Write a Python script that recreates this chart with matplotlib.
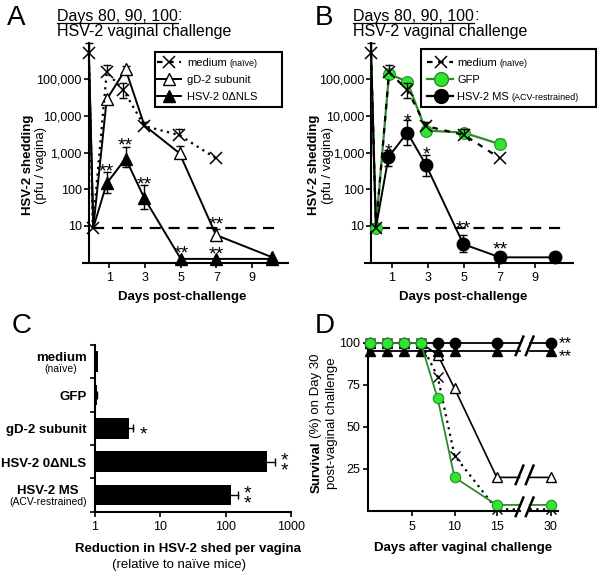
import matplotlib
matplotlib.use("Agg")
import matplotlib.pyplot as plt
from matplotlib.lines import Line2D
from matplotlib.patches import Rectangle
from matplotlib.ticker import NullLocator
import numpy as np

plt.rcParams['font.family'] = ['Liberation Sans', 'DejaVu Sans']

W, H = 602, 574
GREEN_FACE = '#2ee62e'
GREEN_LINE = '#2c8c2c'

# ---- panel A: HSV-2 shedding (pfu / vagina) vs days post-challenge
a_med_days = [-0.15, 0.07, 0.85, 1.78, 2.96, 4.92, 6.97]
a_med = [5.1e5, 9, 1.55e5, 5.1e4, 5.3e3, 3.0e3, 700]
a_med_hi = [9.8e5, 9, 2.4e5, 8e4, 7e3, 4.3e3, 700]
a_med_lo = [5.1e5, 9, 1.55e5, 3e4, 5.3e3, 3.0e3, 700]

a_gd_days = [-0.15, 0.1, 0.85, 1.91, 2.96, 4.93, 6.97, 10.13]
a_gd = [5.1e5, 9, 2.8e4, 1.86e5, 5.5e3, 960, 5.7, 1.4]
a_gd_hi = [5.1e5, 9, 2.8e4, 2.3e5, 5.5e3, 1.5e3, 8.1, 1.4]
a_gd_lo = [5.1e5, 9, 2.8e4, 1.86e5, 5.5e3, 960, 4.2, 1.4]

a_nls_days = [-0.15, 0.1, 0.85, 1.91, 2.96, 5.0, 6.97, 10.13]
a_nls = [5.1e5, 9, 145, 690, 57, 1.27, 1.27, 1.27]
a_nls_hi = [5.1e5, 9, 300, 1450, 130, 1.27, 1.27, 1.27]
a_nls_lo = [5.1e5, 9, 78, 415, 29, 1.27, 1.27, 1.27]

# (day, anchor value, stars, pixels above anchor)
a_stars = [(0.85, 300, '**', 6), (1.91, 1450, '**', 7), (2.96, 130, '**', 7),
           (5.0, 1.27, '**', 12), (6.97, 1.27, '**', 11), (6.97, 8.1, '**', 11)]

# ---- panel B
b_med_days = [-0.15, 0.12, 0.85, 1.87, 2.9, 5.05, 7.03]
b_med = [5.1e5, 9, 1.55e5, 5.1e4, 5.3e3, 3.0e3, 700]
b_med_hi = [9.8e5, 9, 2.4e5, 8e4, 7e3, 4.3e3, 700]
b_med_lo = [5.1e5, 9, 1.55e5, 3e4, 5.3e3, 3.0e3, 700]

b_gfp_days = [-0.15, 0.12, 0.85, 1.87, 2.9, 5.0, 7.03]
b_gfp = [5.1e5, 9, 1.4e5, 8.5e4, 4.0e3, 3.5e3, 1.7e3]
b_gfp_hi = [5.1e5, 9, 1.4e5, 8.5e4, 4.0e3, 3.5e3, 2.4e3]
b_gfp_lo = [5.1e5, 9, 1.4e5, 8.5e4, 4.0e3, 3.5e3, 1.7e3]

b_ms_days = [-0.15, 0.12, 0.82, 1.87, 2.91, 4.99, 7.03, 10.1]
b_ms = [5.1e5, 9, 760, 3.5e3, 460, 3.2, 1.4, 1.4]
b_ms_hi = [5.1e5, 9, 1170, 7.8e3, 850, 5.7, 1.4, 1.4]
b_ms_lo = [5.1e5, 9, 420, 1.6e3, 230, 2.0, 1.4, 1.4]

b_stars = [(0.82, 1170, '*', 5), (1.87, 7.8e3, '*', 4), (2.91, 850, '*', 7),
           (4.99, 5.7, '**', 13), (7.03, 1.4, '**', 14)]

LOD = 9  # dashed detection-limit line

# ---- panel C: fold reduction in shedding
c_groups = ['medium', 'GFP', 'gD-2 subunit', 'HSV-2 0ΔNLS', 'HSV-2 MS']
c_sub = ['(naïve)', '', '', '', '(ACV-restrained)']
c_fold = [1.12, 1.06, 3.35, 434, 121]
c_fold_hi = [1.12, 1.08, 3.86, 570, 157]
c_stars = ['', '', '*', '**', '**']

# ---- panel D: survival
d_days = [0, 2, 4, 6, 8, 10, 15, 30]
d_med = [100, 100, 100, 100, 80, 33, 1, 1]
d_gfp = [100, 100, 100, 100, 67, 20, 3.6, 3.6]
d_gd = [100, 100, 100, 100, 93, 73, 20, 20]
d_nls = [95, 95, 95, 95, 95, 95, 95, 95]
d_ms = [100, 100, 100, 100, 100, 100, 100, 100]
D30_POS = 21.4     # where day 30 sits after the axis break
BREAK = (17.7, 18.9)

fig = plt.figure(figsize=(W / 100, H / 100), dpi=100)
renderer = fig.canvas.get_renderer()


def fx(x):
    return x / W


def fy(y):
    return 1 - y / H


def add_ax(l, t, r, b):
    return fig.add_axes([l / W, 1 - b / H, (r - l) / W, (b - t) / H])


def text_run(x, y, parts, ha='left', rot=0):
    # parts: (text, size, weight); x, y in pixels from top-left, baseline position
    objs = []
    for s, size, weight in parts:
        gap = 0
        if s.startswith(' '):
            gap = 0.278 * size * 100 / 72
            s = s.lstrip()
        t = fig.text(0, 0, s, fontsize=size, fontweight=weight, rotation=rot,
                     rotation_mode='anchor', ha='left', va='baseline')
        bb = t.get_window_extent(renderer)
        objs.append((t, gap, bb.height if rot == 90 else bb.width))
    total = sum(g + w for _, g, w in objs)
    pos = -{'left': 0, 'center': total / 2, 'right': total}[ha]
    spans = []
    for t, g, w in objs:
        pos += g
        if rot == 90:
            t.set_position((fx(x), fy(y - pos)))
        else:
            t.set_position((fx(x + pos), fy(y)))
        spans.append((pos, w))
        pos += w
    return spans


def err(ax, x, y, hi, lo, z):
    for xi, yi, h, l in zip(x, y, hi, lo):
        for end in (h, l):
            if end != yi:
                ax.plot([xi, xi], [yi, end], color='k', lw=1, zorder=z, clip_on=False)
                ax.plot([xi], [end], marker='_', ms=6, mew=1, color='k', zorder=z, clip_on=False)


def star(ax, x, y, s, up_px, size=14, right_px=0):
    em = size * 100 / 72
    ax.annotate(s, (x, y), xytext=(right_px * 0.72, (up_px - 0.57 * em) * 0.72),
                textcoords='offset points', ha='center', va='baseline',
                fontsize=size, annotation_clip=False)


def star_stack(ax, x, y, s, up_px, pitch_px, size=14, right_px=0):
    # two rows of stars in one text
    em = size * 100 / 72
    ax.annotate(s + '\n' + s, (x, y), xytext=(right_px * 0.72, (up_px - 0.22 * em) * 0.72),
                textcoords='offset points', ha='center', va='center',
                linespacing=pitch_px / (0.94 * em), fontsize=size, annotation_clip=False)


def style_ax(ax):
    for s in ['top', 'right']:
        ax.spines[s].set_visible(False)
    for s in ['left', 'bottom']:
        ax.spines[s].set_linewidth(1.5)
    ax.tick_params(direction='out', length=3.5, width=1.2, labelsize=9, pad=2)


def shed_axes(ax):
    ax.set_yscale('log')
    ax.set_ylim(1, 1e6)
    ax.spines['left'].set_position(('data', -0.15))
    ax.set_yticks([10, 100, 1e3, 1e4, 1e5])
    ax.set_yticklabels(['10', '100', '1,000', '10,000', '100,000'])
    ax.yaxis.set_minor_locator(NullLocator())
    ax.set_xticks([1, 3, 5, 7, 9])
    style_ax(ax)
    ax.tick_params(axis='y', pad=1.5)
    ax.tick_params(axis='x', pad=3.5)


# ================= panel A
axA = add_ax(82.6, 42.5, 287.9, 262.7)
axA.set_xlim(-0.5, 11)
shed_axes(axA)
axA.plot([0.1, 10.6], [LOD, LOD], color='k', lw=1.6, ls=(0, (5, 3.5)), zorder=2)
axA.plot(a_gd_days, a_gd, color='k', lw=1.4, marker='^', ms=8, mfc='white', mec='k', mew=1,
         markevery=[2, 3, 5, 6, 7], zorder=3, clip_on=False)
err(axA, a_gd_days, a_gd, a_gd_hi, a_gd_lo, 2.5)
axA.plot(a_med_days, a_med, color='k', lw=1.6, ls=(0, (1, 2)), marker='x', ms=8, mew=1.1,
         zorder=4, clip_on=False)
err(axA, a_med_days, a_med, a_med_hi, a_med_lo, 3.5)
axA.plot(a_nls_days, a_nls, color='k', lw=1.4, marker='^', ms=8, mfc='k', mec='k',
         markevery=[2, 3, 4, 5, 6, 7], zorder=5, clip_on=False)
err(axA, a_nls_days, a_nls, a_nls_hi, a_nls_lo, 4.5)
for x, y, s, up in a_stars:
    star(axA, x, y, s, up)

# ================= panel B
axB = add_ax(364.8, 42.5, 573.0, 262.7)
axB.set_xlim(-0.5, 11.1)
shed_axes(axB)
axB.plot([0.3, 10.7], [LOD, LOD], color='k', lw=1.6, ls=(0, (5, 3.5)), zorder=2)
axB.plot(b_gfp_days, b_gfp, color=GREEN_LINE, lw=1.6, marker='o', ms=8.5, mfc=GREEN_FACE,
         mec=GREEN_LINE, mew=0.8, markevery=[1, 2, 3, 4, 5, 6], zorder=3, clip_on=False)
err(axB, b_gfp_days, b_gfp, b_gfp_hi, b_gfp_lo, 2.5)
axB.plot(b_med_days, b_med, color='k', lw=1.6, ls=(0, (2.5, 3)), marker='x', ms=8, mew=1.1,
         zorder=4, clip_on=False)
err(axB, b_med_days, b_med, b_med_hi, b_med_lo, 3.5)
axB.plot(b_ms_days, b_ms, color='k', lw=1.4, marker='o', ms=9, mfc='k', mec='k',
         markevery=[2, 3, 4, 5, 6, 7], zorder=5, clip_on=False)
err(axB, b_ms_days, b_ms, b_ms_hi, b_ms_lo, 4.5)
for x, y, s, up in b_stars:
    star(axB, x, y, s, up)

# ================= panel C
axC = add_ax(95, 345, 291, 511.7)
axC.set_xscale('log')
axC.set_xlim(1, 1000)
axC.set_ylim(4.5, -0.5)
pos = np.arange(len(c_groups))
axC.barh(pos, np.array(c_fold) - 1, left=1, height=0.62, color='k', zorder=3)
for p, v, h in zip(pos, c_fold, c_fold_hi):
    if h > v:
        axC.plot([v, h], [p, p], color='k', lw=1, zorder=2)
        axC.plot([h], [p], marker='|', ms=6, mew=1, color='k', zorder=2)
for p, h, s in zip(pos, c_fold_hi, c_stars):
    if s == '*':
        star(axC, h, p, '*', 0, right_px=10)
    elif s == '**':
        star_stack(axC, h, p, '*', 0, 8.4, right_px=9)
axC.set_xticks([1, 10, 100, 1000])
axC.set_xticklabels(['1', '10', '100', '1000'])
axC.xaxis.set_minor_locator(NullLocator())
axC.set_yticks(np.arange(-0.5, 5, 1))
axC.set_yticklabels([])
style_ax(axC)
axC.tick_params(axis='x', pad=3.5)

# category labels for C
for p, g, sub in zip(pos, c_groups, c_sub):
    yc = 345 + (p + 0.5) * (511.7 - 345) / 5
    tmp = fig.text(0, 0, g, fontsize=9.5, fontweight='bold')
    wg = tmp.get_window_extent(renderer).width
    tmp.remove()
    ws = 0
    if sub:
        tmp = fig.text(0, 0, sub, fontsize=7.5)
        ws = tmp.get_window_extent(renderer).width
        tmp.remove()
    cx = 86.5 - max(wg, ws) / 2
    if sub:
        text_run(cx, yc - 1, [(g, 9.5, 'bold')], ha='center')
        text_run(cx, yc + 10, [(sub, 7.5, 'normal')], ha='center')
    else:
        text_run(cx, yc + 5, [(g, 9.5, 'bold')], ha='center')

# ================= panel D
axD = add_ax(368, 339.6, 557.5, 511)
axD.set_xlim(-0.25, 22.2)
axD.set_ylim(0, 102)
d_pos = [d if d <= 15 else D30_POS for d in d_days]


def broken(vals):
    x = d_pos[:-1] + [BREAK[0], np.nan, BREAK[1], d_pos[-1]]
    y = vals[:-1] + [vals[-2], np.nan, vals[-1], vals[-1]]
    return x, y


for vals, kw, z in [
        (d_med, dict(color='k', lw=1.6, ls=(0, (1, 2))), 2),
        (d_gd, dict(color='k', lw=1.2), 3),
        (d_nls, dict(color='k', lw=1.3), 4),
        (d_ms, dict(color='k', lw=1.3), 5),
        (d_gfp, dict(color=GREEN_LINE, lw=1.3), 6)]:
    bx, by = broken(vals)
    axD.plot(bx, by, zorder=z, clip_on=False, **kw)

axD.plot(d_pos, d_med, ls='none', marker='x', ms=7, mew=1, color='k', zorder=2.5, clip_on=False)
axD.plot(d_pos, d_gd, ls='none', marker='^', ms=7.5, mfc='white', mec='k', mew=1, zorder=3.5, clip_on=False)
axD.plot(d_pos, d_nls, ls='none', marker='^', ms=7.5, mfc='k', mec='k', zorder=4.5, clip_on=False)
axD.plot(d_pos, d_ms, ls='none', marker='o', ms=7.5, mfc='k', mec='k', zorder=5.5, clip_on=False)
axD.plot(d_pos, d_gfp, ls='none', marker='o', ms=7.5, mfc=GREEN_FACE, mec=GREEN_LINE, mew=0.8,
         zorder=6.5, clip_on=False)

# broken x axis and break marks
axD.spines['bottom'].set_visible(False)
axD.plot([-0.25, BREAK[0]], [0, 0], color='k', lw=1.5, clip_on=False, zorder=7)
axD.plot([BREAK[1], 22.2], [0, 0], color='k', lw=1.5, clip_on=False, zorder=7)
for yc in [98.3, 21.5, 2.5]:
    for bx in BREAK:
        axD.plot([bx - 0.45, bx + 0.45], [yc - 5.5, yc + 5.5], color='k', lw=1.8,
                 clip_on=False, zorder=8)

# stars for the two protected groups, stacked at day 30
star_stack(axD, D30_POS, (d_ms[-1] + d_nls[-1]) / 2, '**', 1, 12.7, size=12, right_px=14)

axD.set_xticks([5, 10, 15, D30_POS])
axD.set_xticklabels(['5', '10', '15', '30'])
axD.set_yticks([25, 50, 75, 100])
style_ax(axD)
axD.tick_params(axis='x', pad=3.5)

# ================= texts
for x0, letter_x, letter in [(56.7, 7, 'A'), (353.3, 315, 'B')]:
    sp = text_run(x0, 20.5, [('Days 80, 90, 100', 11.5, 'normal'), (':', 11.5, 'normal')])
    fig.add_artist(Line2D([fx(x0 + sp[0][0]), fx(x0 + sp[0][0] + sp[0][1])], [fy(23), fy(23)],
                          color='k', lw=0.9, transform=fig.transFigure))
    text_run(x0, 36, [('HSV-2 vaginal challenge', 11.5, 'normal')])
    text_run(letter_x, 25, [(letter, 20, 'normal')])
text_run(11.7, 332.7, [('C', 20, 'normal')])
text_run(315, 333, [('D', 20, 'normal')])

for bx, nx in [(31, 44), (317, 331.3)]:
    text_run(bx, 165, [('HSV-2 shedding', 9.5, 'bold')], ha='center', rot=90)
    text_run(nx, 165, [('(pfu / vagina)', 9.5, 'normal')], ha='center', rot=90)
text_run(182, 300, [('Days post-challenge', 9.5, 'bold')], ha='center')
text_run(463, 300, [('Days post-challenge', 9.5, 'bold')], ha='center')

text_run(188, 552, [('Reduction in HSV-2 shed per vagina', 9.5, 'bold')], ha='center')
text_run(179, 568, [('(relative to naïve mice)', 9.5, 'normal')], ha='center')

text_run(319.5, 423, [('Survival', 9.5, 'bold'), (' (%) on Day 30', 9.5, 'normal')], ha='center', rot=90)
text_run(335.5, 423, [('post-vaginal challenge', 9.5, 'normal')], ha='center', rot=90)
text_run(463, 551, [('Days after vaginal challenge', 9.5, 'bold')], ha='center')


# ================= legends (drawn by hand for mixed font sizes)
def legend(box, hx, tx, rows):
    x0, y0, x1, y1 = box
    fig.add_artist(Rectangle((fx(x0), fy(y1)), fx(x1) - fx(x0), (y1 - y0) / H, fill=True,
                             fc='white', ec='k', lw=1.5, transform=fig.transFigure, zorder=9))
    for y, kw, parts in rows:
        ln = Line2D([fx(hx[0]), fx(hx[1]), fx(hx[2])], [fy(y)] * 3, markevery=[1],
                    transform=fig.transFigure, zorder=10, **kw)
        fig.add_artist(ln)
        text_run(tx, y + 4, parts)


legend((155, 51.7, 282, 107), (157, 169, 181), 187, [
    (62.5, dict(color='k', lw=1.6, ls=(0, (2.5, 2.5)), marker='x', ms=8, mew=1.1),
     [('medium', 8, 'normal'), (' (naïve)', 6.5, 'normal')]),
    (79.2, dict(color='k', lw=1.4, marker='^', ms=9, mfc='white', mec='k'),
     [('gD-2 subunit', 8, 'normal')]),
    (96, dict(color='k', lw=1.4, marker='^', ms=9, mfc='k', mec='k'),
     [('HSV-2 0ΔNLS', 8, 'normal')]),
])
legend((421, 49, 596, 107), (427, 441, 453), 457, [
    (62, dict(color='k', lw=1.6, ls=(0, (2.5, 2.5)), marker='x', ms=8, mew=1.1),
     [('medium', 8, 'normal'), (' (naïve)', 6.5, 'normal')]),
    (79, dict(color=GREEN_LINE, lw=1.6, marker='o', ms=10, mfc=GREEN_FACE, mec=GREEN_LINE),
     [('GFP', 8, 'normal')]),
    (96, dict(color='k', lw=1.6, marker='o', ms=10, mfc='k', mec='k'),
     [('HSV-2 MS', 8, 'normal'), (' (ACV-restrained)', 6.5, 'normal')]),
])
for t in fig.texts:
    t.set_zorder(11)

fig.savefig('out.png', dpi=100)
